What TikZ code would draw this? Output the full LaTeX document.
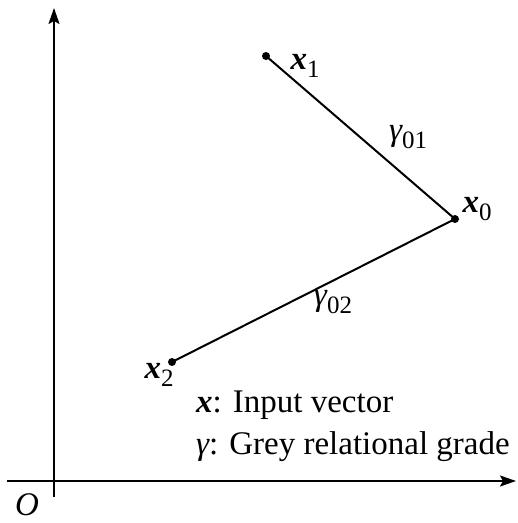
\documentclass[tikz,border=0pt]{standalone}
\usepackage{fontspec}
\setmainfont{Liberation Serif}
\usetikzlibrary{arrows.meta}
\newcommand{\subsc}[1]{\raisebox{-0.25em}{\fontsize{25}{25}\selectfont #1}}
\newcommand{\bx}{{\bfseries\itshape x}}
\newcommand{\gm}{{\itshape γ}}
\begin{document}
\begin{tikzpicture}[x=1pt,y=-1pt,
  axis/.style={line width=2pt,-{Stealth[length=16pt,width=11pt,inset=3pt]}},
  seg/.style={line width=2pt},
  pt/.style={circle,fill=black,inner sep=0pt,minimum size=8pt},
  lab/.style={font=\fontsize{33}{36}\selectfont,inner sep=0pt}]
\useasboundingbox (0,0) rectangle (518,523);
\coordinate (ybot) at (54,497);
\coordinate (ytop) at (54,8);
\coordinate (xl) at (7,481);
\coordinate (xr) at (516,481);
\draw[axis] (ybot) -- (ytop);
\draw[axis] (xl) -- (xr);
\node[lab] (O) at (27,505) {\itshape O};
\node[pt] (p1) at (266,56) {};
\node[pt] (p0) at (455,219) {};
\node[pt] (p2) at (172,362) {};
\draw[seg] (p1.center) -- (p0.center);
\draw[seg] (p0.center) -- (p2.center);
\node[lab] (l1) at (305,66) {\bx\subsc{1}};
\node[lab] (l0) at (477,209) {\bx\subsc{0}};
\node[lab] (l2) at (159,375) {\bx\subsc{2}};
\node[lab] (g1) at (408,137) {\gm\subsc{01}};
\node[lab] (g2) at (333,302) {\gm\subsc{02}};
\node[lab,anchor=west] (t1) at (196,405) {\bx: Input vector};
\node[lab,anchor=west] (t2) at (196,447) {\gm: Grey relational grade};
\end{tikzpicture}
\end{document}
